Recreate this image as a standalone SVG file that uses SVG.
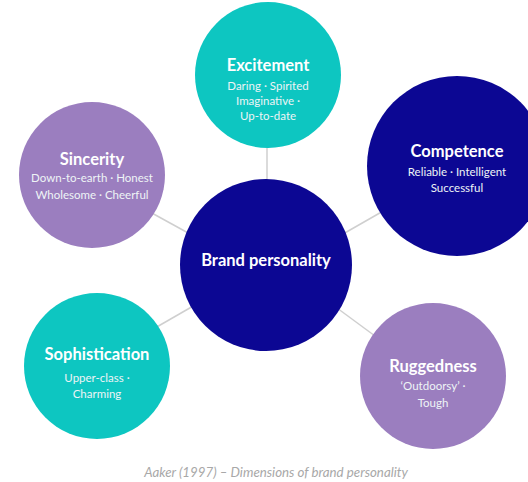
<svg xmlns="http://www.w3.org/2000/svg" width="528" height="482" viewBox="0 0 528 482">
<style>
.teal{fill:#0dc6c1}
.navy{fill:#0c0793}
.purple{fill:#9b7ebf}
.title{font-family:Lato,"Open Sans",sans-serif;font-weight:bold;font-size:16.5px;fill:#ffffff;text-anchor:middle}
.sub{font-family:Lato,"Open Sans",sans-serif;font-size:11.5px;fill:#eef4f6;text-anchor:middle}
.conn{stroke:#cfcfcf;stroke-width:1.5;fill:none}
.cap{font-family:Lato,"Open Sans",sans-serif;font-style:italic;font-size:13.3px;fill:#a8a8a8;text-anchor:middle}
</style>
<rect width="528" height="482" fill="#ffffff"/>
<g id="connectors">
<line class="conn" x1="267" y1="145" x2="267" y2="182"/>
<line class="conn" x1="150" y1="212" x2="190" y2="234"/>
<line class="conn" x1="343" y1="234" x2="385" y2="210"/>
<line class="conn" x1="155" y1="328" x2="195" y2="305"/>
<line class="conn" x1="337" y1="308" x2="375" y2="336"/>
</g>
<g id="excitement">
<circle class="teal" cx="268" cy="75" r="73"/>
<text class="title" x="268" y="71">Excitement</text>
<text class="sub" x="268" y="90">Daring · Spirited</text>
<text class="sub" x="268" y="105">Imaginative ·</text>
<text class="sub" x="268" y="120">Up-to-date</text>
</g>
<g id="competence">
<circle class="navy" cx="457" cy="166" r="90"/>
<text class="title" x="457" y="157">Competence</text>
<text class="sub" x="457" y="176">Reliable · Intelligent</text>
<text class="sub" x="457" y="192">Successful</text>
</g>
<g id="sincerity">
<circle class="purple" cx="92" cy="175" r="73"/>
<text class="title" x="92" y="165">Sincerity</text>
<text class="sub" x="92" y="182">Down-to-earth · Honest</text>
<text class="sub" x="92" y="199">Wholesome · Cheerful</text>
</g>
<g id="brand">
<circle class="navy" cx="266" cy="265" r="86"/>
<text class="title" x="266" y="266">Brand personality</text>
</g>
<g id="sophistication">
<circle class="teal" cx="97" cy="366" r="73"/>
<text class="title" x="97" y="360">Sophistication</text>
<text class="sub" x="97" y="382">Upper-class ·</text>
<text class="sub" x="97" y="398">Charming</text>
</g>
<g id="ruggedness">
<circle class="purple" cx="433" cy="376" r="73"/>
<text class="title" x="433" y="372">Ruggedness</text>
<text class="sub" x="433" y="390">‘Outdoorsy’ ·</text>
<text class="sub" x="433" y="407">Tough</text>
</g>
<text class="cap" x="276" y="477">Aaker (1997) – Dimensions of brand personality</text>
</svg>
